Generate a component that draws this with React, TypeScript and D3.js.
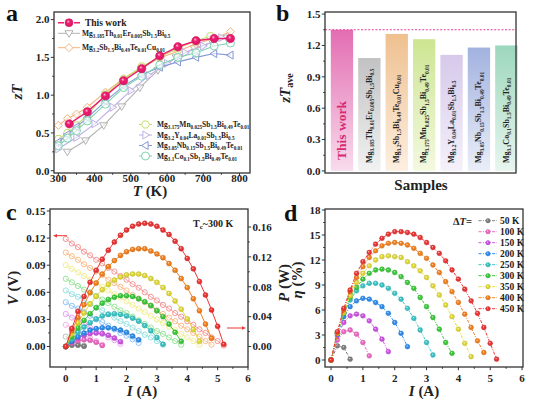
import React from 'react';
import * as d3 from 'd3';

const FONT = '"Liberation Serif", "Times New Roman", serif';

// ---------- panel a : zT vs T ----------
const thisWorkT = [330, 380, 430, 480, 530, 580, 630, 680, 730, 775];
const thisWorkZT = [0.62, 0.78, 0.99, 1.19, 1.35, 1.52, 1.64, 1.72, 1.75, 1.75];
const thErT = [325, 375, 425, 475, 525, 575, 625, 675, 725, 765];
const thErZT = [0.25, 0.4, 0.6, 0.85, 1.1, 1.33, 1.5, 1.62, 1.7, 1.76];
const cuT = [300, 325, 350, 380, 430, 480, 530, 580, 630, 680, 730, 775];
const cuZT = [0.6, 0.69, 0.75, 0.84, 1.04, 1.22, 1.37, 1.49, 1.58, 1.68, 1.75, 1.84];
const mnT = [300, 325, 350, 380, 430, 480, 530, 580, 630, 680, 720];
const mnZT = [0.42, 0.5, 0.6, 0.74, 1.01, 1.21, 1.38, 1.5, 1.62, 1.72, 1.78];
const yLaT = [300, 350, 400, 450, 500, 550, 600, 650, 700, 750];
const yLaZT = [0.29, 0.44, 0.62, 0.84, 1.06, 1.26, 1.42, 1.56, 1.65, 1.76];
const nbT = [300, 325, 350, 380, 430, 480, 530, 580, 630, 680, 730, 775];
const nbZT = [0.38, 0.48, 0.58, 0.7, 0.92, 1.12, 1.27, 1.37, 1.44, 1.5, 1.55, 1.53];
const coT = [300, 325, 350, 380, 430, 480, 530, 580, 630, 680, 730, 775];
const coZT = [0.33, 0.43, 0.53, 0.66, 0.88, 1.1, 1.25, 1.4, 1.5, 1.56, 1.65, 1.69];

const seriesA = [
  { name: 'Mg3.185Th0.01Er0.005Sb1.5Bi0.5', t: thErT, zt: thErZT, color: '#b3b3b3', marker: 'down' },
  { name: 'Mg3.2Sb1.5Bi0.49Te0.01Cu0.01', t: cuT, zt: cuZT, color: '#f2b47e', marker: 'diamond' },
  { name: 'Mg3.175Mn0.025Sb1.5Bi0.49Te0.01', t: mnT, zt: mnZT, color: '#c3de6a', marker: 'hex' },
  { name: 'Mg3.2Y0.04La0.01Sb1.5Bi0.5', t: yLaT, zt: yLaZT, color: '#bfb0e4', marker: 'right' },
  { name: 'Mg3.05Nb0.15Sb1.5Bi0.49Te0.01', t: nbT, zt: nbZT, color: '#8597d4', marker: 'left' },
  { name: 'Mg3.1Co0.1Sb1.5Bi0.49Te0.01', t: coT, zt: coZT, color: '#7ed2b2', marker: 'circle' },
];
const thisWorkColor = '#ee1b6f';

// ---------- panel b : average zT ----------
const sampleNames = ['This work', 'Mg3.185Th0.01Er0.005Sb1.5Bi0.5', 'Mg3.2Sb1.5Bi0.49Te0.01Cu0.01',
  'Mg3.175Mn0.025Sb1.5Bi0.49Te0.01', 'Mg3.2Y0.04La0.01Sb1.5Bi0.5', 'Mg3.05Nb0.15Sb1.5Bi0.49Te0.01',
  'Mg3.1Co0.1Sb1.5Bi0.49Te0.01'];
const zTave = [1.35, 1.08, 1.31, 1.26, 1.11, 1.18, 1.2];
const barTop = ['#e36db2', '#c2c2c2', '#efc08f', '#cde592', '#d6c9ea', '#a2b2df', '#9dd7bd'];
const barBottom = ['#f8dcec', '#f2f2f2', '#fcefe1', '#f3f9e0', '#f5f1fa', '#eaeef9', '#e7f6ef'];

// ---------- panels c, d : module output ----------
const currentSteps = [0, 0.2, 0.4, 0.6, 0.8, 1.0, 1.2, 1.4, 1.6, 1.8, 2.0, 2.2, 2.4, 2.6, 2.8, 3.0,
  3.2, 3.4, 3.6, 3.8, 4.0, 4.2, 4.4, 4.6, 4.8, 5.0, 5.2];
const deltaT = ['50 K', '100 K', '150 K', '200 K', '250 K', '300 K', '350 K', '400 K', '450 K'];
const seriesColors = ['#808080', '#f06ac6', '#cf55e6', '#2f8ef0', '#3cc6c8', '#3ccb3c', '#e4dc3a', '#f5821f', '#ee3535'];

const voltage = [
  [0.011, 0.008, 0.004, 0.001],
  [0.024, 0.020, 0.017, 0.013, 0.009, 0.006, 0.002],
  [0.036, 0.032, 0.029, 0.025, 0.021, 0.018, 0.014, 0.010, 0.007, 0.003],
  [0.049, 0.045, 0.042, 0.038, 0.034, 0.030, 0.027, 0.023, 0.019, 0.015, 0.012, 0.008, 0.004],
  [0.062, 0.058, 0.055, 0.051, 0.047, 0.043, 0.040, 0.036, 0.032, 0.028, 0.025, 0.021, 0.017, 0.013, 0.010, 0.006, 0.002],
  [0.075, 0.071, 0.067, 0.063, 0.060, 0.056, 0.052, 0.048, 0.044, 0.040, 0.037, 0.033, 0.029, 0.025, 0.021, 0.017, 0.014, 0.010, 0.006, 0.002],
  [0.090, 0.086, 0.082, 0.078, 0.074, 0.070, 0.066, 0.062, 0.058, 0.054, 0.050, 0.046, 0.042, 0.038, 0.034, 0.030, 0.026, 0.022, 0.018, 0.014, 0.010, 0.006, 0.002],
  [0.104, 0.100, 0.096, 0.091, 0.087, 0.083, 0.079, 0.074, 0.070, 0.066, 0.062, 0.057, 0.053, 0.049, 0.045, 0.040, 0.036, 0.032, 0.028, 0.023, 0.019, 0.015, 0.011, 0.006, 0.002],
  [0.119, 0.114, 0.110, 0.105, 0.101, 0.096, 0.092, 0.087, 0.083, 0.078, 0.074, 0.069, 0.065, 0.060, 0.055, 0.051, 0.046, 0.042, 0.037, 0.033, 0.028, 0.024, 0.019, 0.015, 0.010, 0.006, 0.001],
];

const power = [
  [0, 0.0018, 0.0018, 0.0004],
  [0, 0.0048, 0.0078, 0.0090, 0.0083, 0.0058, 0.0014],
  [0, 0.0065, 0.0115, 0.0151, 0.0173, 0.0180, 0.0173, 0.0151, 0.0115, 0.0065],
  [0, 0.007, 0.013, 0.018, 0.022, 0.024, 0.025, 0.025, 0.024, 0.022, 0.019, 0.014, 0.009],
  [0, 0.010, 0.019, 0.026, 0.032, 0.037, 0.041, 0.043, 0.044, 0.043, 0.041, 0.038, 0.034, 0.028, 0.021, 0.012, 0.003],
  [0, 0.013, 0.025, 0.035, 0.044, 0.052, 0.058, 0.063, 0.066, 0.068, 0.068, 0.067, 0.064, 0.060, 0.055, 0.048, 0.040, 0.030, 0.019, 0.007],
  [0, 0.017, 0.032, 0.045, 0.057, 0.067, 0.076, 0.083, 0.089, 0.093, 0.096, 0.097, 0.097, 0.095, 0.091, 0.086, 0.079, 0.071, 0.061, 0.050, 0.037, 0.023, 0.007],
  [0, 0.021, 0.039, 0.056, 0.072, 0.085, 0.097, 0.107, 0.115, 0.122, 0.127, 0.130, 0.131, 0.131, 0.128, 0.124, 0.119, 0.111, 0.102, 0.091, 0.079, 0.064, 0.048, 0.030, 0.011],
  [0, 0.024, 0.047, 0.067, 0.086, 0.102, 0.117, 0.129, 0.140, 0.149, 0.156, 0.161, 0.164, 0.165, 0.164, 0.161, 0.156, 0.150, 0.141, 0.131, 0.118, 0.104, 0.087, 0.069, 0.049, 0.027, 0.003],
];

const efficiency = [
  [0, 1.7, 1.5, 0.1],
  [0, 2.4, 3.4, 3.6, 3.1, 2.1, 0.5],
  [0, 2.9, 4.5, 5.3, 5.5, 5.3, 4.7, 3.7, 2.5, 1.0],
  [0, 3.1, 5.2, 6.4, 7.1, 7.4, 7.3, 6.9, 6.4, 5.6, 4.5, 3.2, 1.6],
  [0, 3.2, 5.6, 7.2, 8.3, 8.9, 9.2, 9.2, 9.0, 8.6, 8.0, 7.3, 6.2, 5.0, 3.6, 2.1, 0.6],
  [0, 3.2, 5.6, 7.5, 8.7, 9.7, 10.4, 10.8, 10.9, 10.8, 10.5, 10.0, 9.3, 8.6, 7.5, 6.4, 5.1, 3.7, 2.1, 0.8],
  [0, 3.2, 5.7, 7.7, 9.3, 10.4, 11.3, 12.0, 12.4, 12.5, 12.4, 12.3, 11.8, 11.3, 10.7, 9.9, 8.9, 7.8, 6.6, 5.2, 3.7, 2.0, 0.4],
  [0, 3.3, 6.0, 8.2, 9.9, 11.2, 12.3, 13.1, 13.7, 14.0, 14.1, 14.0, 13.8, 13.4, 12.8, 12.2, 11.4, 10.5, 9.4, 8.2, 6.9, 5.5, 3.9, 2.3, 0.9],
  [0, 3.4, 6.2, 8.4, 10.4, 11.8, 12.9, 13.9, 14.6, 15.1, 15.4, 15.4, 15.3, 15.1, 14.7, 14.1, 13.5, 12.8, 11.9, 10.8, 9.7, 8.5, 7.1, 5.6, 3.9, 2.0, 0.1],
];

// ---------- helpers ----------
const mids = (t: number[]) => t.slice(1).map((v, i) => (v + t[i]) / 2);
const gid = (c: string) => 'sph' + c.replace('#', '');
const light = (c: string, k: number) => d3.interpolateRgb(c, '#ffffff')(k);

function markerPath(kind: string, r: number) {
  if (kind === 'down') return `M${-r},${-r * 0.65}L${r},${-r * 0.65}L0,${r}Z`;
  if (kind === 'right') return `M${-r * 0.65},${-r}L${r},0L${-r * 0.65},${r}Z`;
  if (kind === 'left') return `M${r * 0.65},${-r}L${-r},0L${r * 0.65},${r}Z`;
  if (kind === 'diamond') return `M0,${-r}L${r},0L0,${r}L${-r},0Z`;
  if (kind === 'hex') {
    const pts = d3.range(6).map(i => {
      const a = (Math.PI / 3) * i;
      return [r * Math.cos(a), r * Math.sin(a)];
    });
    return 'M' + pts.map(p => p.join(',')).join('L') + 'Z';
  }
  return d3.symbol(d3.symbolCircle, Math.PI * r * r)() as string;
}

function Formula({ f, x, y, size, anchor = 'start', fill = '#222', transform }:
  { f: string; x: number; y: number; size: number; anchor?: string; fill?: string; transform?: string }) {
  const parts = [...f.matchAll(/([A-Z][a-z]?)([\d.]*)/g)];
  const sub = size * 0.68;
  const shift = size * 0.3;
  const spans: React.ReactNode[] = [];
  let down = false;
  parts.forEach((m, i) => {
    spans.push(<tspan key={i + 'e'} dy={down ? -shift : 0} fontSize={size}>{m[1]}</tspan>);
    down = false;
    if (m[2]) {
      spans.push(<tspan key={i + 's'} dy={shift} fontSize={sub}>{m[2]}</tspan>);
      down = true;
    }
  });
  return <text x={x} y={y} textAnchor={anchor} fill={fill} transform={transform}>{spans}</text>;
}

function Frame({ x0, x1, y0, y1 }: { x0: number; x1: number; y0: number; y1: number }) {
  return <rect x={x0} y={y0} width={x1 - x0} height={y1 - y0} fill="none" stroke="#333" strokeWidth={1.3} />;
}

function YAxis({ scale, ticks, x, fmt, side = 'left' }:
  { scale: d3.ScaleLinear<number, number>; ticks: number[]; x: number; fmt: (v: number) => string; side?: string }) {
  const s = side === 'left' ? -1 : 1;
  return (
    <g>
      {mids(ticks).map(v => <line key={'m' + v} x1={x} x2={x + s * 1.8} y1={scale(v)} y2={scale(v)} stroke="#333" strokeWidth={1} />)}
      {ticks.map(v => (
        <g key={v}>
          <line x1={x} x2={x + s * 3.2} y1={scale(v)} y2={scale(v)} stroke="#333" strokeWidth={1} />
          <text x={x + s * 4.5} y={scale(v) + 3.8} fontSize={11} textAnchor={side === 'left' ? 'end' : 'start'} fill="#222">{fmt(v)}</text>
        </g>
      ))}
    </g>
  );
}

function XAxis({ scale, ticks, y, fmt = (v: number) => String(v), labelY }:
  { scale: d3.ScaleLinear<number, number>; ticks: number[]; y: number; fmt?: (v: number) => string; labelY: number }) {
  return (
    <g>
      {mids(ticks).map(v => <line key={'m' + v} x1={scale(v)} x2={scale(v)} y1={y} y2={y + 1.8} stroke="#333" strokeWidth={1} />)}
      {ticks.map(v => (
        <g key={v}>
          <line x1={scale(v)} x2={scale(v)} y1={y} y2={y + 3.2} stroke="#333" strokeWidth={1} />
          <text x={scale(v)} y={labelY} fontSize={11} textAnchor="middle" fill="#222">{fmt(v)}</text>
        </g>
      ))}
    </g>
  );
}

function Sphere({ cx, cy, r, color }: { cx: number; cy: number; r: number; color: string }) {
  return <circle cx={cx} cy={cy} r={r} fill={`url(#${gid(color)})`} stroke={d3.color(color)!.darker(0.4).toString()} strokeWidth={0.5} />;
}

// ---------- panel a ----------
function PanelA() {
  const x = d3.scaleLinear().domain([288, 829]).range([54, 250]);
  const y = d3.scaleLinear().domain([-0.03, 2.1]).range([173, 12]);
  const line = d3.line<[number, number]>().x(d => x(d[0])).y(d => y(d[1]));
  const legendRows = [33.3, 47.7, 124.5, 135, 145.5, 156];
  return (
    <g>
      {seriesA.map(s => {
        const pts = s.t.map((t, i) => [t, s.zt[i]] as [number, number]);
        return (
          <g key={s.name}>
            <path d={line(pts) as string} fill="none" stroke={s.color} strokeWidth={1.1} />
            {pts.map((p, i) => (
              <path key={i} d={markerPath(s.marker, 4)} transform={`translate(${x(p[0])},${y(p[1])})`}
                fill="#fff" fillOpacity={0.6} stroke={s.color} strokeWidth={1} />
            ))}
          </g>
        );
      })}
      <path d={line(thisWorkT.map((t, i) => [t, thisWorkZT[i]] as [number, number])) as string}
        fill="none" stroke={thisWorkColor} strokeWidth={1.4} />
      {thisWorkT.map((t, i) => <Sphere key={i} cx={x(t)} cy={y(thisWorkZT[i])} r={4.2} color={thisWorkColor} />)}

      {/* legend */}
      <line x1={58} x2={80} y1={22.7} y2={22.7} stroke={thisWorkColor} strokeWidth={1.4} strokeDasharray="6,2" />
      <Sphere cx={69} cy={22.7} r={4} color={thisWorkColor} />
      <text x={85} y={26} fontSize={9.5} fill="#222">This work</text>
      {seriesA.map((s, i) => {
        const ly = legendRows[i];
        const lx = i < 2 ? 58 : 139;
        const tx = i < 2 ? 82 : 157;
        const w = i < 2 ? 22 : 13;
        return (
          <g key={s.name}>
            <line x1={lx} x2={lx + w} y1={ly} y2={ly} stroke={s.color} strokeWidth={1} />
            <path d={markerPath(s.marker, 4)} transform={`translate(${lx + w / 2},${ly})`} fill="#fff" stroke={s.color} strokeWidth={1} />
            <Formula f={s.name} x={tx} y={ly + 2.5} size={7.5} />
          </g>
        );
      })}

      <Frame x0={54} x1={250} y0={12} y1={173} />
      <YAxis scale={y} ticks={[0, 0.5, 1, 1.5, 2]} x={54} fmt={d3.format('.1f')} />
      <XAxis scale={x} ticks={[300, 400, 500, 600, 700, 800]} y={173} labelY={181.5} />
      <text transform="translate(22,92) rotate(-90)" textAnchor="middle" fontSize={15} fontStyle="italic" fill="#222">zT</text>
      <text x={150} y={196} textAnchor="middle" fontSize={15} fill="#222"><tspan fontStyle="italic">T</tspan> (K)</text>
      <text x={6} y={21} fontSize={24} fill="#111">a</text>
    </g>
  );
}

// ---------- panel b ----------
function PanelB() {
  const x = d3.scaleBand<string>().domain(sampleNames).range([330.8, 517.5]).paddingInner(0.185).paddingOuter(0);
  const y = d3.scaleLinear().domain([-0.02, 1.52]).range([173, 12]);
  return (
    <g>
      <defs>
        {barTop.map((c, i) => (
          <linearGradient key={i} id={'bar' + i} x1="0" x2="0" y1="0" y2="1">
            <stop offset="0%" stopColor={c} />
            <stop offset="100%" stopColor={barBottom[i]} />
          </linearGradient>
        ))}
      </defs>
      {sampleNames.map((n, i) => (
        <rect key={n} x={x(n)} width={x.bandwidth()} y={y(zTave[i])} height={y(0) - y(zTave[i])} fill={`url(#bar${i})`} />
      ))}
      <line x1={325} x2={516} y1={y(zTave[0])} y2={y(zTave[0])} stroke="#e8409a" strokeWidth={1.2} strokeDasharray="2,1.6" />
      {sampleNames.map((n, i) => {
        const cx = (x(n) as number) + x.bandwidth() / 2;
        if (i === 0) {
          return <text key={n} transform={`translate(${cx + 4.5},160) rotate(-90)`} fontSize={13.5} fill="#d8286f">This work</text>;
        }
        return <Formula key={n} f={n} x={0} y={0} size={8} transform={`translate(${cx + 2.2},163) rotate(-90)`} />;
      })}
      <Frame x0={325} x1={516} y0={12} y1={173} />
      <YAxis scale={y} ticks={[0, 0.3, 0.6, 0.9, 1.2, 1.5]} x={325} fmt={d3.format('.1f')} />
      <text transform="translate(290,88) rotate(-90)" textAnchor="middle" fontSize={15} fill="#222">
        <tspan fontStyle="italic">zT</tspan><tspan fontSize={10} dy={3}>ave</tspan>
      </text>
      <text x={421} y={190} textAnchor="middle" fontSize={15} fill="#222">Samples</text>
      <text x={276} y={21} fontSize={24} fill="#111">b</text>
    </g>
  );
}

// ---------- panel c ----------
function PanelC() {
  const x = d3.scaleLinear().domain([-0.52, 6.0]).range([50, 248]);
  const yL = d3.scaleLinear().domain([-0.0227, 0.1522]).range([367, 209]);
  const yR = d3.scaleLinear().domain([-0.0274, 0.1841]).range([367, 209]);
  return (
    <g>
      {voltage.map((vs, k) => {
        const c = light(seriesColors[k], 0.42);
        const l = d3.line<number>().x((_, i) => x(currentSteps[i])).y(v => yL(v));
        return (
          <g key={'v' + k}>
            <path d={l(vs) as string} fill="none" stroke={c} strokeWidth={0.8} />
            {vs.map((v, i) => <circle key={i} cx={x(currentSteps[i])} cy={yL(v)} r={2.6} fill="none" stroke={c} strokeWidth={0.9} />)}
          </g>
        );
      })}
      {power.map((ps, k) => {
        const c = seriesColors[k];
        const l = d3.line<number>().x((_, i) => x(currentSteps[i])).y(v => yR(v));
        return (
          <g key={'p' + k}>
            <path d={l(ps) as string} fill="none" stroke={c} strokeWidth={1} />
            {ps.map((v, i) => <Sphere key={i} cx={x(currentSteps[i])} cy={yR(v)} r={2.5} color={c} />)}
          </g>
        );
      })}
      {/* arrows */}
      <line x1={67} x2={56} y1={235.7} y2={235.7} stroke="#ee3535" strokeWidth={1} />
      <path d="M53,235.7L57,233.9L57,237.5Z" fill="#ee3535" />
      <line x1={227} x2={243} y1={328} y2={328} stroke="#ee3535" strokeWidth={1} />
      <path d="M246,328L242,326.2L242,329.8Z" fill="#ee3535" />
      <text x={193} y={227} fontSize={10} fill="#222">T<tspan fontSize={7} dy={2}>c</tspan><tspan dy={-2}>~300 K</tspan></text>

      <Frame x0={50} x1={248} y0={209} y1={367} />
      <YAxis scale={yL} ticks={[0, 0.03, 0.06, 0.09, 0.12, 0.15]} x={50} fmt={d3.format('.2f')} />
      <YAxis scale={yR} ticks={[0, 0.04, 0.08, 0.12, 0.16]} x={248} fmt={d3.format('.2f')} side="right" />
      <XAxis scale={x} ticks={[0, 1, 2, 3, 4, 5, 6]} y={367} labelY={381.5} />
      <text transform="translate(17.5,288) rotate(-90)" textAnchor="middle" fontSize={15} fill="#222"><tspan fontStyle="italic">V</tspan> (V)</text>
      <text transform="translate(288.5,283) rotate(-90)" textAnchor="middle" fontSize={15} fill="#222"><tspan fontStyle="italic">P</tspan> (W)</text>
      <text x={142} y={396} textAnchor="middle" fontSize={15} fill="#222"><tspan fontStyle="italic">I</tspan> (A)</text>
      <text x={6} y={220} fontSize={24} fill="#111">c</text>
    </g>
  );
}

// ---------- panel d ----------
function PanelD() {
  const x = d3.scaleLinear().domain([-0.19, 6.03]).range([325, 523]);
  const y = d3.scaleLinear().domain([-0.84, 18.12]).range([367, 209]);
  return (
    <g>
      {efficiency.map((es, k) => {
        const c = seriesColors[k];
        const l = d3.line<number>().x((_, i) => x(currentSteps[i])).y(v => y(v));
        return (
          <g key={'e' + k}>
            <path d={l(es) as string} fill="none" stroke={c} strokeWidth={1} strokeDasharray="3,1.4,1,1.4" />
            {es.map((v, i) => <Sphere key={i} cx={x(currentSteps[i])} cy={y(v)} r={2.4} color={c} />)}
          </g>
        );
      })}
      <text x={472} y={224.5} textAnchor="end" fontSize={10.5} fill="#222">Δ<tspan fontStyle="italic">T</tspan>=</text>
      {deltaT.map((d, k) => {
        const ly = 220.7 + k * 11;
        return (
          <g key={d}>
            <line x1={478.5} x2={497} y1={ly} y2={ly} stroke={seriesColors[k]} strokeWidth={1} strokeDasharray="3,1.4,1,1.4" />
            <Sphere cx={488} cy={ly} r={2.2} color={seriesColors[k]} />
            <text x={500} y={ly + 3.4} fontSize={9.5} fill="#222">{d}</text>
          </g>
        );
      })}
      <Frame x0={325} x1={523} y0={209} y1={367} />
      <YAxis scale={y} ticks={[0, 3, 6, 9, 12, 15, 18]} x={325} fmt={d3.format('d')} />
      <XAxis scale={x} ticks={[0, 1, 2, 3, 4, 5, 6]} y={367} labelY={381.5} />
      <text transform="translate(302,280) rotate(-90)" textAnchor="middle" fontSize={15} fill="#222"><tspan fontStyle="italic">η</tspan> (%)</text>
      <text x={424} y={396} textAnchor="middle" fontSize={15} fill="#222"><tspan fontStyle="italic">I</tspan> (A)</text>
      <text x={284} y={221} fontSize={24} fill="#111">d</text>
    </g>
  );
}

export default function App() {
  const allColors = [...seriesColors, thisWorkColor];
  return (
    <svg width={535} height={399} style={{ position: 'absolute', left: 0, top: 0, background: '#fff' }}
      fontFamily={FONT} fontWeight="bold">
      <defs>
        {allColors.map(c => (
          <radialGradient key={c} id={gid(c)} cx="0.5" cy="0.5" fx="0.38" fy="0.32" r="0.6">
            <stop offset="0%" stopColor={light(c, 0.75)} />
            <stop offset="35%" stopColor={c} />
            <stop offset="100%" stopColor={d3.color(c)!.darker(0.35).toString()} />
          </radialGradient>
        ))}
      </defs>
      <PanelA />
      <PanelB />
      <PanelC />
      <PanelD />
    </svg>
  );
}
